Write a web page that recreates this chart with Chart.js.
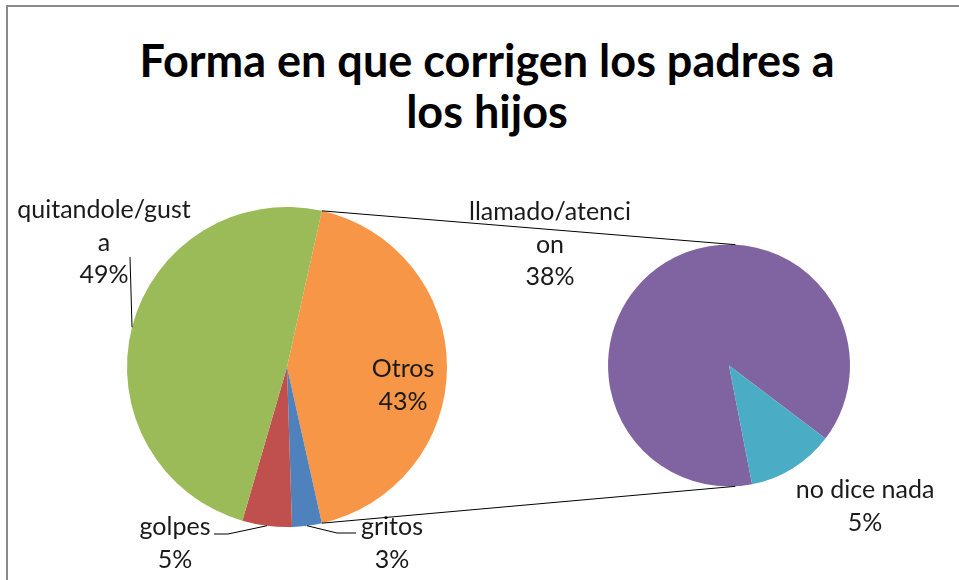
<!DOCTYPE html>
<html>
<head>
<meta charset="utf-8">
<script src="https://cdn.jsdelivr.net/npm/chart.js@4/dist/chart.umd.min.js"></script>
<style>
  html, body { margin: 0; padding: 0; background: #fff; }
  #wrap { position: relative; width: 959px; height: 580px; overflow: hidden; }
  #frame { position: absolute; left: 6px; top: 5px; width: 980px; height: 600px;
           border-left: 2px solid #8a8a8a; border-top: 2px solid #8a8a8a; }
  #title { position: absolute; left: 0; top: 35px; width: 974px; text-align: center;
           font: bold 45px Lato, sans-serif; line-height: 51px; color: #000; }
  canvas { position: absolute; left: 0; top: 0; }
</style>
</head>
<body>
<div id="wrap">
  <div id="frame"></div>
  <div id="title">Forma en que corrigen los padres a<br>los hijos</div>
  <canvas id="mainPie" width="959" height="580"></canvas>
  <canvas id="subPie" width="959" height="580"></canvas>
</div>
<script>
// ===== DATA =====
const mainLabels = ["Otros", "gritos", "golpes", "quitandole/gusta"];
const mainValues = [43, 3, 5, 49];
const subLabels = ["llamado/atencion", "no dice nada"];
const subValues = [38, 5];

const mainColors = ["#F79646", "#4F81BD", "#C0504D", "#9BBB59"];
const subColors = ["#8064A2", "#4BACC6"];

// labels wrap the same way the original ones do
const mainWrap = [["Otros"], ["gritos"], ["golpes"], ["quitandole/gust", "a"]];
const subWrap = [["llamado/atenci", "on"], ["no dice nada"]];

const total = mainValues.reduce((a, b) => a + b, 0);
const pct = v => Math.round(v / total * 100) + "%";

// ===== LABEL LAYOUT =====
// centre x, first baseline, leader points (last one joins the slice edge)
const mainLabelPos = [
  { x: 403, y: 377 },
  { x: 392, y: 535, leader: [[356, 533], [337, 533]] },
  { x: 175, y: 535, leader: [[214, 534], [228, 534]] },
  { x: 104, y: 218, leader: [[130, 257]] }
];
const subLabelPos = [
  { x: 550, y: 220 },
  { x: 865, y: 498 }
];
const LABEL_FONT = "25px Lato, sans-serif";
const LINE_H = 32.5;

function edgePoint(arc, angle) {
  return [arc.x + Math.cos(angle) * arc.outerRadius, arc.y + Math.sin(angle) * arc.outerRadius];
}

function labelPlugin(wrap, values, pos) {
  return {
    id: "sliceLabels",
    afterDraw(chart) {
      const ctx = chart.ctx;
      const arcs = chart.getDatasetMeta(0).data;
      ctx.save();
      ctx.font = LABEL_FONT;
      ctx.fillStyle = "#1a1a1a";
      ctx.textAlign = "center";
      ctx.textBaseline = "alphabetic";
      ctx.strokeStyle = "#000";
      ctx.lineWidth = 1;
      wrap.forEach((lines, i) => {
        const p = pos[i];
        lines.concat([pct(values[i])]).forEach((t, k) => {
          ctx.fillText(t, p.x, p.y + k * LINE_H);
        });
        if (p.leader) {
          const a = arcs[i];
          const mid = (a.startAngle + a.endAngle) / 2;
          const e = edgePoint(a, mid);
          ctx.beginPath();
          ctx.moveTo(p.leader[0][0], p.leader[0][1]);
          p.leader.slice(1).forEach(q => ctx.lineTo(q[0], q[1]));
          ctx.lineTo(e[0], e[1]);
          ctx.stroke();
        }
      });
      ctx.restore();
    }
  };
}

// ===== MAIN PIE =====
const mainChart = new Chart(document.getElementById("mainPie"), {
  type: "pie",
  data: {
    labels: mainLabels,
    datasets: [{ data: mainValues, backgroundColor: mainColors, borderWidth: 0 }]
  },
  options: {
    responsive: false,
    animation: false,
    // "Otros" slice faces the secondary pie (centred at 3 o'clock)
    rotation: 90 - mainValues[0] / total * 180,
    layout: { padding: { left: 127, right: 512, top: 207, bottom: 53 } },
    plugins: { legend: { display: false }, tooltip: { enabled: false } }
  },
  plugins: [labelPlugin(mainWrap, mainValues, mainLabelPos)]
});

// ===== SECONDARY PIE + CONNECTORS =====
const connectorPlugin = {
  id: "connectors",
  afterDraw(chart) {
    const ctx = chart.ctx;
    const other = mainChart.getDatasetMeta(0).data[0];
    const sub = chart.getDatasetMeta(0).data[0];
    const deg = d => (d - 90) * Math.PI / 180;
    const a1 = edgePoint(other, other.startAngle);
    const a2 = edgePoint(other, other.endAngle);
    const b1 = edgePoint(sub, deg(3));
    const b2 = edgePoint(sub, deg(177));
    ctx.save();
    ctx.strokeStyle = "#000";
    ctx.lineWidth = 1;
    ctx.beginPath();
    ctx.moveTo(a1[0], a1[1]); ctx.lineTo(b1[0], b1[1]);
    ctx.moveTo(a2[0], a2[1]); ctx.lineTo(b2[0], b2[1]);
    ctx.stroke();
    ctx.restore();
  }
};

const subChart = new Chart(document.getElementById("subPie"), {
  type: "pie",
  data: {
    labels: subLabels,
    datasets: [{ data: subValues, backgroundColor: subColors, borderWidth: 0 }]
  },
  options: {
    responsive: false,
    animation: false,
    rotation: 169,
    layout: { padding: { left: 608, right: 109, top: 244, bottom: 93 } },
    plugins: { legend: { display: false }, tooltip: { enabled: false } }
  },
  plugins: [connectorPlugin, labelPlugin(subWrap, subValues, subLabelPos)]
});
</script>
</body>
</html>
